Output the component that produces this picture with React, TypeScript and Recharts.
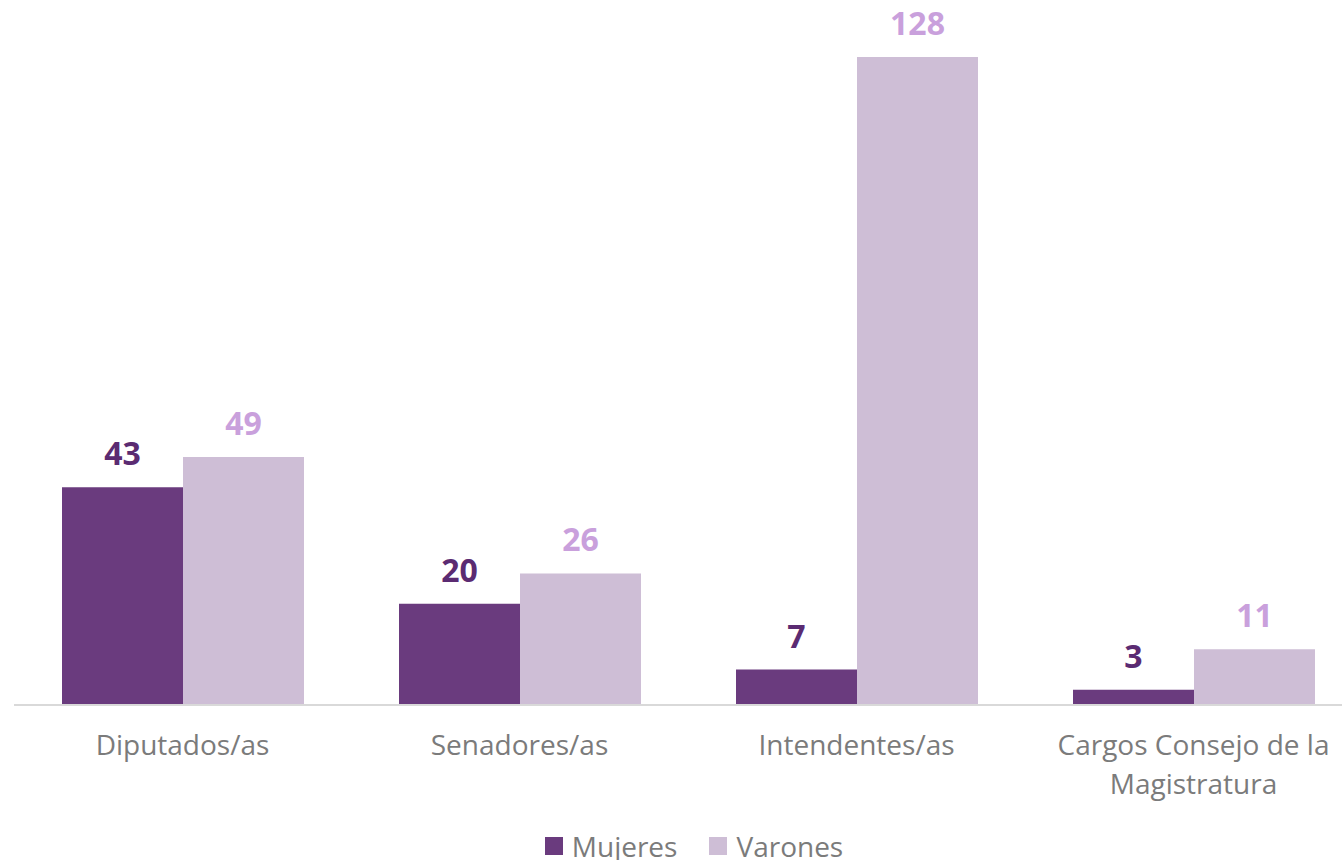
import { BarChart, Bar, XAxis, YAxis, Legend, LabelList } from "recharts";

const categories = ["Diputados/as", "Senadores/as", "Intendentes/as", "Cargos Consejo de la Magistratura"];
const mujeres = [43, 20, 7, 3];
const varones = [49, 26, 128, 11];
const seriesNames = { mujeres: "Mujeres", varones: "Varones" };

const data = categories.map((cargo, i) => ({ cargo, mujeres: mujeres[i], varones: varones[i] }));

const FONT = "'Open Sans', 'Liberation Sans', sans-serif";
const GREY = "#7b7b7b";
const MUJ = "#6a3b7e";
const VAR = "#cebed6";

// greedy word wrap, about what fits under one category
function wrapWords(text: string, maxChars: number) {
  const lines: string[] = [];
  let cur = "";
  for (const w of text.split(" ")) {
    const next = cur ? cur + " " + w : w;
    if (next.length > maxChars && cur) {
      lines.push(cur);
      cur = w;
    } else cur = next;
  }
  if (cur) lines.push(cur);
  return lines;
}

function CategoryTick({ x, y, payload }: any) {
  const lines = wrapWords(String(payload.value), 24);
  return (
    <text x={x} y={y + 50} textAnchor="middle" style={{ fontFamily: FONT, fontSize: 28, fill: GREY }}>
      {lines.map((l, i) => (
        <tspan key={i} x={x} dy={i === 0 ? 0 : 39}>
          {l}
        </tspan>
      ))}
    </text>
  );
}

function LegendBox({ payload }: any) {
  return (
    <div style={{ display: "flex", justifyContent: "center", paddingLeft: 44, height: 50, alignItems: "flex-end", transform: "translateY(4px)" }}>
      {(payload || []).map((p: any) => (
        <div key={p.value} style={{ display: "flex", alignItems: "center", marginRight: 32 }}>
          <span style={{ width: 18, height: 18, background: p.color, display: "inline-block", marginRight: 9 }} />
          <span style={{ fontFamily: FONT, fontSize: 28, color: GREY, lineHeight: "36px" }}>{p.value}</span>
        </div>
      ))}
    </div>
  );
}

export default function App() {
  return (
    <div style={{ position: "absolute", left: 0, top: 0, width: 1342, height: 860, overflow: "hidden", background: "#fff" }}>
      <BarChart
        width={1362}
        height={860}
        data={data}
        margin={{ top: 57, right: 0, left: 14, bottom: 0 }}
        barCategoryGap={48}
        barGap={0}
      >
        <XAxis
          dataKey="cargo"
          axisLine={{ stroke: "#d9d9d9", strokeWidth: 2 }}
          tickLine={false}
          tickSize={0}
          tickMargin={0}
          interval={0}
          height={105}
          tick={<CategoryTick />}
        />
        <YAxis hide domain={[0, 128]} />
        <Legend verticalAlign="bottom" height={50} content={<LegendBox />} />
        <Bar dataKey="mujeres" name={seriesNames.mujeres} fill={MUJ} isAnimationActive={false}>
          <LabelList
            dataKey="mujeres"
            position="top"
            offset={22}
            style={{ fontFamily: FONT, fontSize: 32, fontWeight: 700, fill: "#5b2b72" }}
          />
        </Bar>
        <Bar dataKey="varones" name={seriesNames.varones} fill={VAR} isAnimationActive={false}>
          <LabelList
            dataKey="varones"
            position="top"
            offset={22}
            style={{ fontFamily: FONT, fontSize: 32, fontWeight: 700, fill: "#c9a0dc" }}
          />
        </Bar>
      </BarChart>
    </div>
  );
}
